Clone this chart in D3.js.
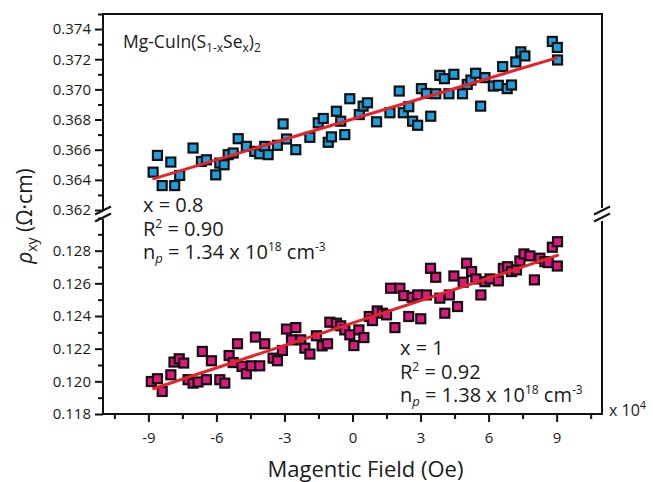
<!DOCTYPE html>
<html>
<head>
<meta charset="utf-8">
<script src="https://cdn.jsdelivr.net/npm/d3@7"></script>
<style>
  body { margin: 0; background: #fff; }
  svg text { font-family: "Open Sans", sans-serif; fill: #1a1a1a; }
  .axis path, .axis line { stroke: #111; }
</style>
</head>
<body>
<svg id="chart"></svg>
<script>
// field in units of 10^4 Oe
var fieldX08 = [-8.79, -8.60, -8.39, -8.01, -7.84, -7.62, -7.03, -6.66, -6.44, -6.03, -5.85, -5.66, -5.48, -5.26, -5.04, -4.68, -4.31,
  -4.09, -3.87, -3.72, -3.31, -3.06, -2.91, -2.50, -1.88, -1.51, -1.29, -1.07, -0.93, -0.71, -0.52, -0.34, -0.12, 0.30, 0.47, 0.66,
  1.06, 1.65, 2.06, 2.24, 2.48, 2.65, 2.87, 3.04, 3.26, 3.45, 3.67, 3.85, 4.05, 4.25, 4.47, 4.85, 5.06, 5.22, 5.43, 5.65, 5.84,
  6.21, 6.43, 6.62, 6.82, 7.01, 7.20, 7.42, 7.60, 8.81, 9.03, 9.04];
var rho08 = [0.36451, 0.36562, 0.36362, 0.36518, 0.36362, 0.36429, 0.36611, 0.36522, 0.36533, 0.36433, 0.36511, 0.36500, 0.36567,
  0.36578, 0.36673, 0.36622, 0.36589, 0.36573, 0.36622, 0.36567, 0.36629, 0.36771, 0.36671, 0.36600, 0.36682, 0.36778, 0.36807,
  0.36649, 0.36685, 0.36855, 0.36789, 0.36700, 0.36938, 0.36833, 0.36889, 0.36911, 0.36785, 0.36845, 0.36989, 0.36845, 0.36885,
  0.36789, 0.36762, 0.37005, 0.36973, 0.36822, 0.36971, 0.37093, 0.37071, 0.36971, 0.37100, 0.36971, 0.37033, 0.37062, 0.37107,
  0.36889, 0.37078, 0.37022, 0.37027, 0.37151, 0.37005, 0.37029, 0.37182, 0.37249, 0.37222, 0.37318, 0.37278, 0.37195];

var fieldX1 = [-8.87, -8.60, -8.39, -8.01, -7.87, -7.64, -7.44, -7.25, -7.03, -6.81, -6.62, -6.44, -6.22, -5.85, -5.63, -5.44, -5.26,
  -5.07, -4.87, -4.68, -4.46, -4.28, -4.09, -3.87, -3.50, -3.31, -3.09, -2.91, -2.69, -2.50, -2.28, -2.10, -1.88, -1.59, -1.34,
  -1.10, -1.00, -0.71, -0.52, -0.34, -0.12, 0.06, 0.28, 0.50, 0.74, 0.88, 1.09, 1.32, 1.50, 1.68, 1.87, 2.09, 2.26, 2.48, 2.63,
  2.87, 3.01, 3.26, 3.44, 3.67, 3.85, 4.07, 4.27, 4.47, 4.63, 4.88, 5.03, 5.25, 5.44, 5.66, 5.84, 6.06, 6.43, 6.65, 6.84, 7.01,
  7.23, 7.38, 7.56, 7.82, 8.02, 8.26, 8.48, 8.63, 8.81, 9.04, 9.03];
var rho1 = [0.11999, 0.12016, 0.11938, 0.12040, 0.12118, 0.12138, 0.12112, 0.12010, 0.11989, 0.11996, 0.12183, 0.12010, 0.12126,
  0.12010, 0.11989, 0.12158, 0.12115, 0.12230, 0.12091, 0.12046, 0.12095, 0.12271, 0.12095, 0.12230, 0.12142, 0.12126, 0.12189,
  0.12320, 0.12254, 0.12329, 0.12254, 0.12203, 0.12167, 0.12279, 0.12217, 0.12230, 0.12362, 0.12356, 0.12340, 0.12315, 0.12285,
  0.12219, 0.12315, 0.12268, 0.12397, 0.12372, 0.12431, 0.12417, 0.12407, 0.12570, 0.12329, 0.12570, 0.12525, 0.12397, 0.12515,
  0.12529, 0.12383, 0.12529, 0.12692, 0.12637, 0.12509, 0.12417, 0.12529, 0.12645, 0.12458, 0.12607, 0.12723, 0.12672, 0.12627,
  0.12529, 0.12610, 0.12627, 0.12615, 0.12692, 0.12702, 0.12672, 0.12682, 0.12737, 0.12780, 0.12768, 0.12621, 0.12754, 0.12733,
  0.12727, 0.12821, 0.12855, 0.12706];

// linear fits: [x, rho] at both ends
var fit08 = [[-8.82, 0.36405], [9.04, 0.37211]];
var fit1 = [[-8.82, 0.11953], [9.10, 0.12774]];

var xTicks = [-9, -6, -3, 0, 3, 6, 9];
var yTicksTop = [0.362, 0.364, 0.366, 0.368, 0.370, 0.372, 0.374];
var yTicksBot = [0.118, 0.120, 0.122, 0.124, 0.126, 0.128];

var width = 653, height = 482;
var plotLeft = 103, plotRight = 602, plotTop = 14, plotBottom = 414;

var svg = d3.select("#chart").attr("width", width).attr("height", height);

var x = d3.scaleLinear().domain([-11, 11]).range([plotLeft, plotRight]);
var yTop = d3.scaleLinear().domain([0.362, 0.375]).range([210, plotTop]);
var yBot = d3.scaleLinear().domain([0.118, 0.130]).range([plotBottom, 218]);

// frame
var frame = svg.append("g").attr("stroke", "#111").attr("stroke-width", 2).attr("fill", "none");
frame.append("path").attr("d", "M" + plotLeft + ",210V" + plotTop + "H" + plotRight + "V208");
frame.append("path").attr("d", "M" + plotLeft + ",219V" + plotBottom + "H" + plotRight + "V221");

// break marks
function breakMark(cx, cy) {
  [-3.5, 3.5].forEach(function (o) {
    frame.append("line")
      .attr("x1", cx - 8).attr("y1", cy + o + 4)
      .attr("x2", cx + 8).attr("y2", cy + o - 4);
  });
}
breakMark(plotLeft, 214);
breakMark(plotRight, 214);

// y axes
function yAxis(scale, ticks, minorStep) {
  var d = scale.domain();
  var minors = d3.range(d[0], d[1] + 1e-9, minorStep).filter(function (v) {
    return !ticks.some(function (t) { return Math.abs(t - v) < 1e-7; });
  });
  var g = svg.append("g").attr("class", "axis").attr("transform", "translate(" + plotLeft + ",0)");
  g.call(d3.axisLeft(scale).tickValues(minors).tickSize(5).tickFormat(""));
  g.select(".domain").remove();
  var gm = svg.append("g").attr("class", "axis").attr("transform", "translate(" + plotLeft + ",0)");
  gm.call(d3.axisLeft(scale).tickValues(ticks).tickSize(8).tickPadding(4).tickFormat(d3.format(".3f")));
  gm.select(".domain").remove();
  svg.selectAll(".axis line").attr("stroke-width", 2);
  gm.selectAll("text").style("font-size", "15px").style("font-family", "Open Sans, sans-serif").attr("fill", "#1a1a1a");
}
yAxis(yTop, yTicksTop, 0.001);
yAxis(yBot, yTicksBot, 0.001);

// x axis
var xMinor = d3.range(-10.5, 10.6, 1.5).filter(function (v) { return xTicks.indexOf(v) < 0; });
var gx = svg.append("g").attr("class", "axis").attr("transform", "translate(0," + plotBottom + ")");
gx.call(d3.axisBottom(x).tickValues(xMinor).tickSize(5).tickFormat(""));
gx.select(".domain").remove();
var gx2 = svg.append("g").attr("class", "axis").attr("transform", "translate(0," + plotBottom + ")");
gx2.call(d3.axisBottom(x).tickValues(xTicks).tickSize(8).tickPadding(10)
  .tickFormat(function (d) { return String(d); }));
gx2.select(".domain").remove();
svg.selectAll(".axis line").attr("stroke-width", 2);
gx2.selectAll("text").style("font-size", "15px").style("font-family", "Open Sans, sans-serif").attr("fill", "#1a1a1a");

// fit lines
var lineTop = d3.line().x(function (d) { return x(d[0]); }).y(function (d) { return yTop(d[1]); });
var lineBot = d3.line().x(function (d) { return x(d[0]); }).y(function (d) { return yBot(d[1]); });

// markers
var size = 9;
function drawPoints(xs, ys, scale, color) {
  svg.append("g").selectAll("rect")
    .data(xs.map(function (v, i) { return [v, ys[i]]; }))
    .enter().append("rect")
    .attr("x", function (d) { return x(d[0]) - size / 2; })
    .attr("y", function (d) { return scale(d[1]) - size / 2; })
    .attr("width", size).attr("height", size)
    .attr("fill", color).attr("stroke", "#111").attr("stroke-width", 2.2);
}
drawPoints(fieldX08, rho08, yTop, "#1ba1df");
drawPoints(fieldX1, rho1, yBot, "#e0177f");

svg.append("path").attr("d", lineTop(fit08)).attr("stroke", "#e8222a").attr("stroke-width", 3).attr("fill", "none");
svg.append("path").attr("d", lineBot(fit1)).attr("stroke", "#e8222a").attr("stroke-width", 3).attr("fill", "none");

// annotations
function txt(xp, yp, size) {
  return svg.append("text").attr("x", xp).attr("y", yp).style("font-size", size + "px");
}
var t = txt(123, 48, 17.5);
t.append("tspan").text("Mg-CuIn(S");
t.append("tspan").attr("dy", 4).style("font-size", "12px").text("1-x");
t.append("tspan").attr("dy", -4).text("Se");
t.append("tspan").attr("dy", 4).style("font-size", "12px").text("x");
t.append("tspan").attr("dy", -4).text(")");
t.append("tspan").attr("dy", 4).style("font-size", "12px").text("2");

function stats(x0, y0, xs, r2, np) {
  txt(x0, y0, 20).text("x = " + xs);
  var r = txt(x0, y0 + 24, 20);
  r.append("tspan").text("R");
  r.append("tspan").attr("dy", -8).style("font-size", "12px").text("2");
  r.append("tspan").attr("dy", 8).text(" = " + r2);
  var n = txt(x0, y0 + 47, 20);
  n.append("tspan").text("n");
  n.append("tspan").attr("dy", 4).style("font-size", "13px").style("font-style", "italic").text("p");
  n.append("tspan").attr("dy", -4).text(" = " + np + " x 10");
  n.append("tspan").attr("dy", -8).style("font-size", "12px").text("18");
  n.append("tspan").attr("dy", 8).text(" cm");
  n.append("tspan").attr("dy", -8).style("font-size", "12px").text("-3");
}
stats(143, 212, "0.8", "0.90", "1.34");
stats(400, 355, "1", "0.92", "1.38");

var e = txt(609, 416, 16);
e.append("tspan").text("x 10");
e.append("tspan").attr("dy", -7).style("font-size", "11px").text("4");

svg.append("text").attr("x", (plotLeft + plotRight) / 2 + 13).attr("y", 477)
  .attr("text-anchor", "middle").style("font-size", "22px").text("Magentic Field (Oe)");

var yl = svg.append("text").attr("transform", "translate(32,216) rotate(-90)")
  .attr("text-anchor", "middle").style("font-size", "21px");
yl.append("tspan").style("font-style", "italic").text("\u03c1");
yl.append("tspan").attr("dy", 5).style("font-size", "14px").text("xy");
yl.append("tspan").attr("dy", -5).text(" (\u03a9\u00b7cm)");
</script>
</body>
</html>
